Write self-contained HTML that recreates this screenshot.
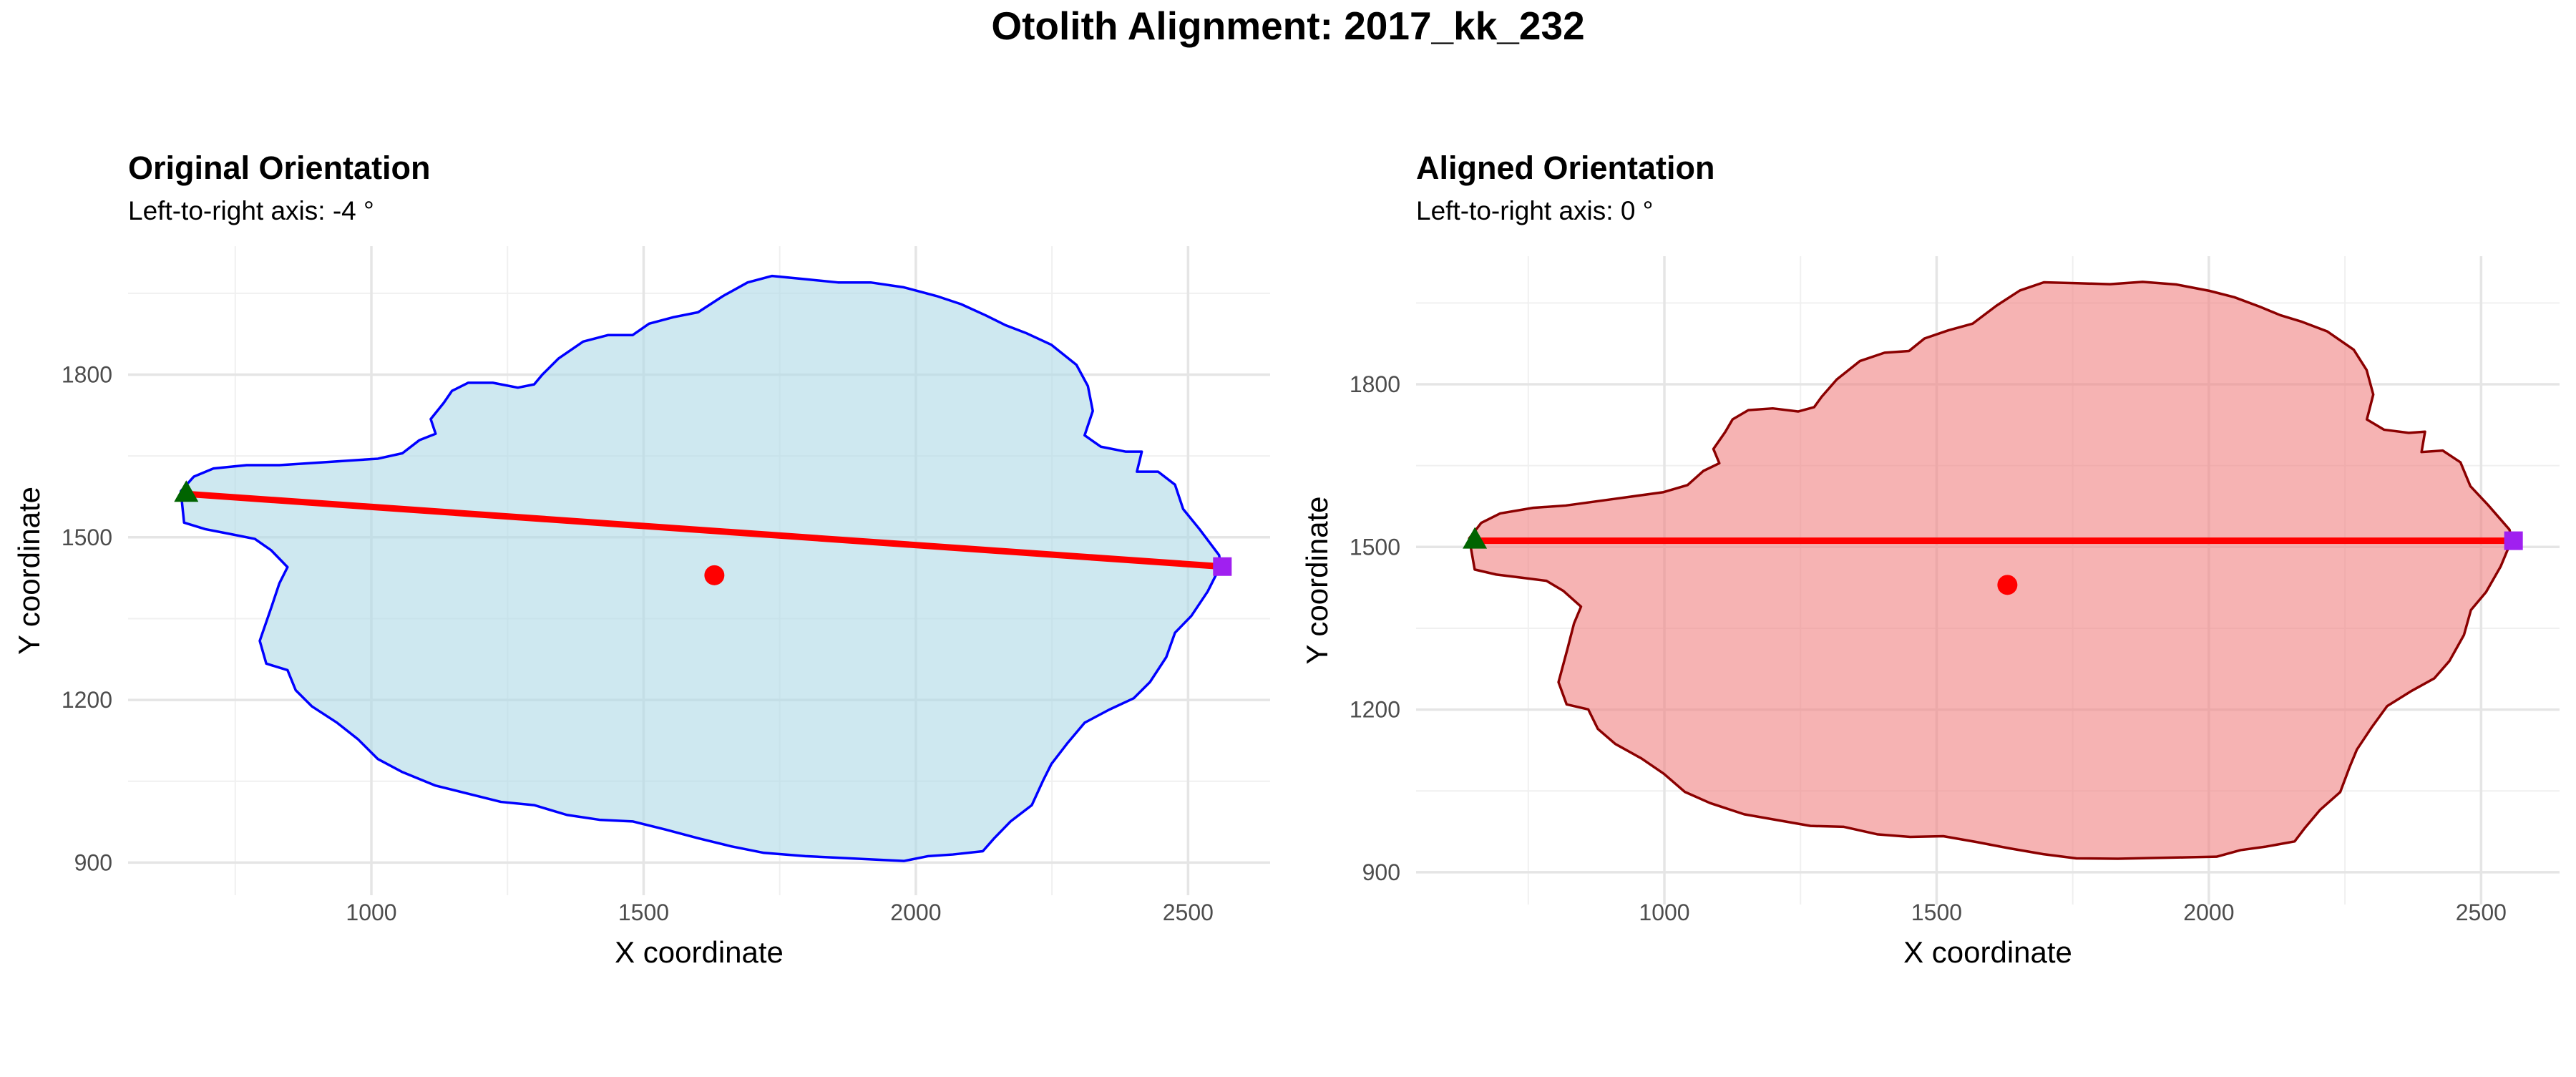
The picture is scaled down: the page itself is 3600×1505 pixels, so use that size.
<!DOCTYPE html>
<html><head><meta charset="utf-8">
<style>
html,body{margin:0;padding:0;background:#fff;}
svg text{font-family:"Liberation Sans",Arial,sans-serif;}
</style></head>
<body>
<svg id="chart" width="3600" height="1500" viewBox="0 0 3600 1500" xmlns="http://www.w3.org/2000/svg">
<text x="1800" y="55" text-anchor="middle" font-size="55" font-weight="bold">Otolith Alignment: 2017_kk_232</text>
<g id="p1"></g>
<g id="p2"></g>
</svg>
<script>
const outlineX = [650,674,710,771,831,922,1012,1057,1088,1118,1109,1133,1148,1178,1223,1269,1299,1314,1344,1389,1435,1480,1510,1555,1600,1646,1691,1736,1797,1857,1917,1978,2038,2083,2129,2165,2204,2249,2295,2316,2325,2310,2340,2385,2415,2406,2445,2476,2491,2521,2557,2560,2536,2506,2476,2460,2430,2400,2355,2310,2279,2249,2234,2213,2174,2144,2123,2068,2023,1978,1917,1857,1797,1721,1661,1600,1540,1480,1419,1359,1299,1238,1178,1118,1057,1012,976,937,891,861,846,807,795,816,831,846,816,786,741,695,656];
const outlineY = [1585,1612,1627,1633,1633,1639,1645,1655,1679,1691,1718,1748,1770,1785,1785,1776,1782,1800,1830,1861,1873,1873,1894,1906,1915,1945,1970,1982,1976,1970,1970,1961,1945,1930,1909,1891,1876,1855,1818,1779,1733,1688,1667,1658,1658,1621,1621,1597,1552,1515,1467,1448,1400,1355,1324,1279,1233,1203,1182,1158,1121,1082,1052,1006,976,945,921,915,912,903,906,909,912,918,930,945,961,976,979,988,1006,1012,1027,1042,1067,1091,1127,1158,1188,1218,1255,1267,1309,1370,1415,1445,1476,1497,1506,1515,1527];
const leftPt = [660,1580];
const rightPt = [2563,1446];
const centroid = [1630,1430];
const xTicks = [1000,1500,2000,2500];
const yTicks = [900,1200,1500,1800];
const xMinor = [750,1250,1750,2250];
const yMinor = [1050,1350,1650,1950];

const NS="http://www.w3.org/2000/svg";
function mk(parent,tag,attrs){const e=document.createElementNS(NS,tag);for(const k in attrs)e.setAttribute(k,attrs[k]);parent.appendChild(e);return e;}

const angle=Math.atan2(rightPt[1]-leftPt[1],rightPt[0]-leftPt[0]);
function rot(p){const c=Math.cos(-angle),s=Math.sin(-angle);const dx=p[0]-centroid[0],dy=p[1]-centroid[1];return [centroid[0]+dx*c-dy*s,centroid[1]+dx*s+dy*c];}

function panel(g,cfg){
  const sx=v=>cfg.x0+(v-1000)*0.7609, sy=v=>cfg.y0-(v-1800)*0.7577;
  for(const v of xMinor){const l=mk(g,'line',{x1:sx(v),x2:sx(v),y1:cfg.top,y2:cfg.bot,stroke:'#f0f0f0','stroke-width':2});
    }
  for(const v of yMinor){const l=mk(g,'line',{x1:cfg.left,x2:cfg.right,y1:sy(v),y2:sy(v),stroke:'#f0f0f0','stroke-width':2});
    }
  for(const v of xTicks){const l=mk(g,'line',{x1:sx(v),x2:sx(v),y1:cfg.top,y2:cfg.bot,stroke:'#e5e5e5','stroke-width':3.5});
    
    const t=mk(g,'text',{x:sx(v),y:1286,'text-anchor':'middle','font-size':32,fill:'#4d4d4d'});t.textContent=v;
    }
  for(const v of yTicks){const l=mk(g,'line',{x1:cfg.left,x2:cfg.right,y1:sy(v),y2:sy(v),stroke:'#e5e5e5','stroke-width':3.5});
    
    const t=mk(g,'text',{x:cfg.left-22,y:sy(v)+11,'text-anchor':'end','font-size':32,fill:'#4d4d4d'});t.textContent=v;
    }
  const pts=outlineX.map((x,i)=>cfg.tf([x,outlineY[i]]));
  const poly=mk(g,'polygon',{points:pts.map(p=>sx(p[0])+','+sy(p[1])).join(' '),fill:cfg.fill,'fill-opacity':0.6,stroke:cfg.stroke,'stroke-width':3.5,'stroke-linejoin':'round'});
  
  const a=cfg.tf(leftPt),b=cfg.tf(rightPt),c=cfg.tf(centroid);
  const ln=mk(g,'line',{x1:sx(a[0]),y1:sy(a[1]),x2:sx(b[0]),y2:sy(b[1]),stroke:'#ff0000','stroke-width':9});
  
  const cx=sx(a[0]),cy=sy(a[1]);
  const tri=mk(g,'polygon',{points:`${cx},${cy-19} ${cx-17},${cy+11} ${cx+17},${cy+11}`,fill:'#006400'});
  
  const sq=mk(g,'rect',{x:sx(b[0])-13,y:sy(b[1])-13,width:26,height:26,fill:'#a020f0'});
  
  const ci=mk(g,'circle',{cx:sx(c[0]),cy:sy(c[1]),r:14,fill:'#ff0000'});
  
  const t1=mk(g,'text',{x:cfg.left,y:250,'font-size':45,'font-weight':'bold'});t1.textContent=cfg.title;
  
  const t2=mk(g,'text',{x:cfg.left,y:307,'font-size':37});t2.textContent=cfg.sub;
  
  const xt=mk(g,'text',{x:(cfg.left+cfg.right)/2,y:1345,'text-anchor':'middle','font-size':42});xt.textContent='X coordinate';
  
  const ym=(cfg.top+cfg.bot)/2;
  const yt=mk(g,'text',{x:cfg.ytx,y:ym,'text-anchor':'middle','font-size':42,transform:`rotate(-90 ${cfg.ytx} ${ym})`});yt.textContent='Y coordinate';
  
}
const g1=document.getElementById('p1');

const g2=document.getElementById('p2');

panel(g1,{x0:519,y0:523.5,left:179,right:1775,top:344,bot:1251,fill:'#add8e6',stroke:'#0000ff',tf:p=>p,
  title:'Original Orientation',sub:'Left-to-right axis: -4 °',ytx:55});
panel(g2,{x0:2326,y0:537,left:1979,right:3577,top:358,bot:1264,fill:'#f08080',stroke:'#8b0000',tf:rot,
  title:'Aligned Orientation',sub:'Left-to-right axis: 0 °',ytx:1855});
</script>
</body></html>
